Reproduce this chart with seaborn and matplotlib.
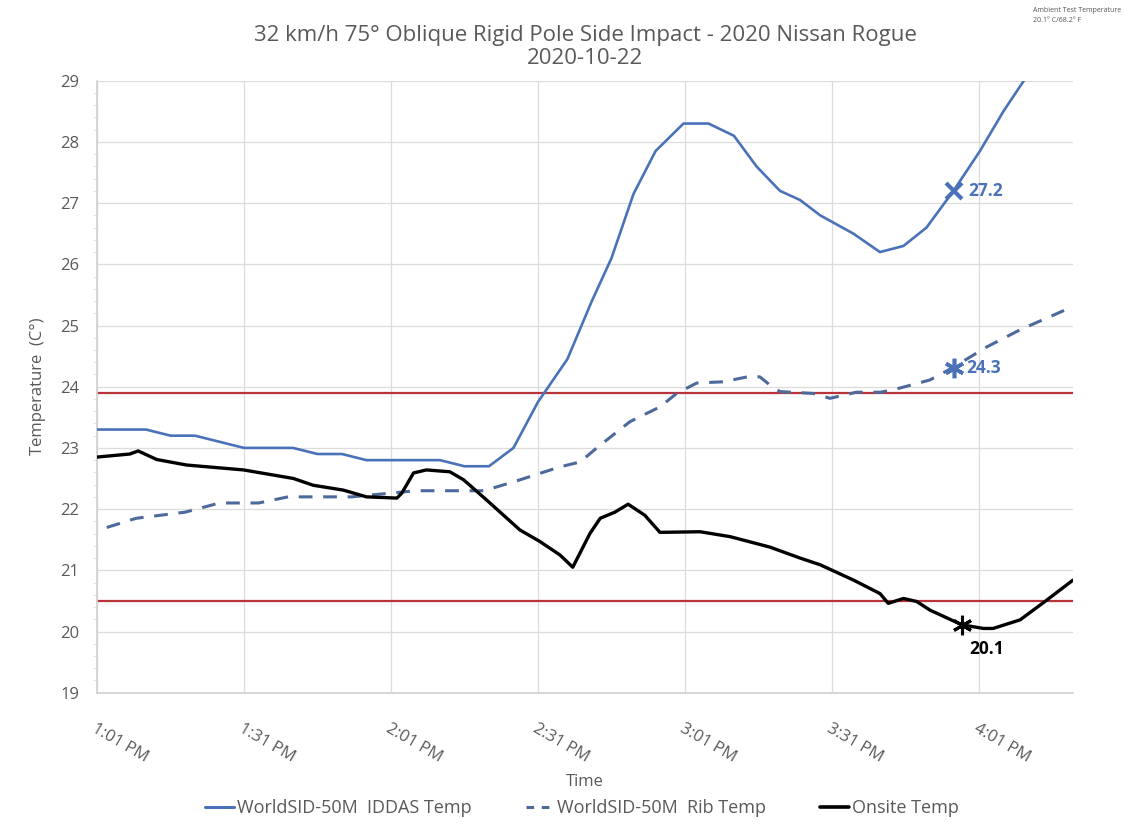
import matplotlib
matplotlib.use("Agg")
import matplotlib.pyplot as plt
import seaborn as sns
import pandas as pd
from matplotlib.ticker import MultipleLocator, FixedLocator
from matplotlib.lines import Line2D

# ---- data (x in minutes after 1:01 PM) ----
t_iddas = [0, 10, 15, 20, 25, 30, 40, 45, 50, 55, 70, 75, 80, 85, 90, 96, 101, 105, 109.5, 114,
           119.7, 124.8, 130, 134.6, 139.4, 143.5, 147.6, 154.4, 159.8, 164.6, 169.3, 174.8, 180.2, 185, 190]
v_iddas = [23.3, 23.3, 23.2, 23.2, 23.1, 23.0, 23.0, 22.9, 22.9, 22.8, 22.8, 22.7, 22.7, 23.0, 23.75, 24.45,
           25.4, 26.1, 27.15, 27.85, 28.3, 28.3, 28.1, 27.6, 27.2, 27.05, 26.8, 26.5, 26.2, 26.3, 26.6, 27.2,
           27.85, 28.5, 29.1]

t_rib = [2, 8, 13, 18, 25, 33, 39, 52, 65, 79, 86, 94.5, 98.6, 102, 108.8, 114.9, 118.3, 122.4, 127.8,
         133.3, 135.3, 137.3, 139.4, 146.2, 149.6, 155, 160, 163.5, 170, 174.4, 181.6, 188.4, 199.2]
v_rib = [21.7, 21.85, 21.9, 21.95, 22.1, 22.1, 22.2, 22.2, 22.3, 22.3, 22.47, 22.69, 22.77, 23.0, 23.43,
         23.67, 23.89, 24.06, 24.08, 24.17, 24.16, 24.03, 23.92, 23.89, 23.81, 23.91, 23.91, 23.97, 24.11,
         24.3, 24.65, 24.93, 25.31]

t_on = [0, 6.7, 8.4, 12.2, 18.3, 29.9, 40.1, 44.1, 50.3, 55, 61.2, 62.2, 64.6, 67.2, 72, 74.8, 79.5, 86.3,
        90.4, 94.5, 97.1, 100.6, 102.7, 105.7, 108.4, 111.8, 114.9, 123.1, 129.2, 137.3, 143.5, 147.6, 154.4,
        159.8, 161.5, 164.6, 167.3, 170, 176.5, 180.9, 182.9, 188.4, 193.8, 199.2]
v_on = [22.85, 22.9, 22.95, 22.81, 22.72, 22.64, 22.5, 22.39, 22.31, 22.2, 22.18, 22.26, 22.59, 22.64, 22.61,
        22.48, 22.15, 21.66, 21.47, 21.25, 21.05, 21.6, 21.85, 21.95, 22.08, 21.9, 21.62, 21.63, 21.55, 21.38,
        21.2, 21.09, 20.84, 20.62, 20.46, 20.54, 20.49, 20.35, 20.11, 20.05, 20.05, 20.19, 20.51, 20.84]

limits = [23.9, 20.5]
mark_t = [175, 175, 176.5]
mark_v = [27.2, 24.3, 20.1]
mark_labels = ["27.2", "24.3", "20.1"]

tick_pos = [0, 30, 60, 90, 120, 150, 180]
tick_labels = ["1:01 PM", "1:31 PM", "2:01 PM", "2:31 PM", "3:01 PM", "3:31 PM", "4:01 PM"]

series_names = ["WorldSID-50M  IDDAS Temp", "WorldSID-50M  Rib Temp", "Onsite Temp"]

# ---- style ----
sns.set_style("white")
plt.rcParams['font.family'] = ['Open Sans', 'DejaVu Sans']
GRAY = "#595959"
BLUE = "#4A72B8"
DBLUE = "#4B6A9B"
RED = "#B8343A"

fig = plt.figure(figsize=(11.48, 8.35), dpi=100)
ax = fig.add_axes([97/1148, 1-692.7/835, (1073-97)/1148, (692.7-80.7)/835])

df_i = pd.DataFrame({"t": t_iddas, "v": v_iddas})
df_r = pd.DataFrame({"t": t_rib, "v": v_rib})
df_o = pd.DataFrame({"t": t_on, "v": v_on})

for y in limits:
    ax.axhline(y, color=RED, lw=1.6, zorder=2)

sns.lineplot(data=df_i, x="t", y="v", ax=ax, color=BLUE, lw=1.9, sort=False, zorder=3)
sns.lineplot(data=df_r, x="t", y="v", ax=ax, color=DBLUE, lw=2.2, sort=False, zorder=3,
             dashes=False, linestyle=(0, (4.5, 3.5)))
sns.lineplot(data=df_o, x="t", y="v", ax=ax, color="black", lw=2.4, sort=False, zorder=4)

# markers + labels
ax.plot(mark_t[0], mark_v[0], marker="x", ms=11, mew=3, color=BLUE, zorder=5)
ax.plot(mark_t[1], mark_v[1], marker=(6, 2, 0), ms=14, mew=2.6, color=BLUE, zorder=5)
ax.plot(mark_t[2], mark_v[2], marker=(6, 2, 0), ms=14, mew=2.2, color="black", zorder=5)
ax.annotate(mark_labels[0], (mark_t[0], mark_v[0]), xytext=(14, 0), textcoords="offset pixels",
            ha="left", va="center", fontsize=12.5, fontweight="bold", color=BLUE)
ax.annotate(mark_labels[1], (mark_t[1], mark_v[1]), xytext=(12, 0), textcoords="offset pixels",
            ha="left", va="center", fontsize=12.5, fontweight="bold", color=BLUE)
ax.annotate(mark_labels[2], (mark_t[2], mark_v[2]), xytext=(8, -24), textcoords="offset pixels",
            ha="left", va="center", fontsize=12.5, fontweight="bold", color="black")

ax.set_xlim(0, 199.2)
ax.set_ylim(19, 29)
ax.yaxis.set_major_locator(MultipleLocator(1))
ax.yaxis.set_minor_locator(MultipleLocator(0.2))
ax.xaxis.set_major_locator(FixedLocator(tick_pos))
ax.set_xticklabels(tick_labels, rotation=-30, ha="left", va="top", rotation_mode="anchor")
ax.grid(True, which="major", color="#DCDCDC", lw=0.9)
for s in ["top", "right"]:
    ax.spines[s].set_visible(False)
for s in ["left", "bottom"]:
    ax.spines[s].set_color("#D0D0D0")
    ax.spines[s].set_linewidth(1.2)
ax.tick_params(axis="y", which="major", length=5, color="#D0D0D0", labelsize=12, labelcolor=GRAY, pad=8)
ax.tick_params(axis="y", which="minor", length=3, color="#E0E0E0", left=True)
ax.tick_params(axis="x", which="major", length=0, labelsize=12, labelcolor=GRAY, pad=20)

ax.set_xlabel("Time", fontsize=12, color=GRAY, labelpad=6)
ax.set_ylabel("Temperature  (C°)", fontsize=12, color=GRAY, labelpad=10)
ax.set_title("32 km/h 75° Oblique Rigid Pole Side Impact - 2020 Nissan Rogue\n2020-10-22",
             fontsize=16, color=GRAY, pad=12, linespacing=1.15)

fig.text(1033/1148, 1-10/835, "Ambient Test Temperature", fontsize=5, color="#555555", va="center")
fig.text(1033/1148, 1-21/835, "20.1° C/68.2° F", fontsize=5, color="#555555", va="center")

handles = [Line2D([], [], color=BLUE, lw=2.2),
           Line2D([], [], color=DBLUE, lw=2.2, linestyle=(0, (2.5, 2.5))),
           Line2D([], [], color="black", lw=2.6)]
fig.legend(handles, series_names, loc="center", bbox_to_anchor=(582/1148, 1-808/835), ncol=3,
           frameon=False, fontsize=13, handlelength=1.6, handletextpad=0.15, columnspacing=3.0,
           labelcolor=GRAY)

fig.savefig("out.png", dpi=100)
